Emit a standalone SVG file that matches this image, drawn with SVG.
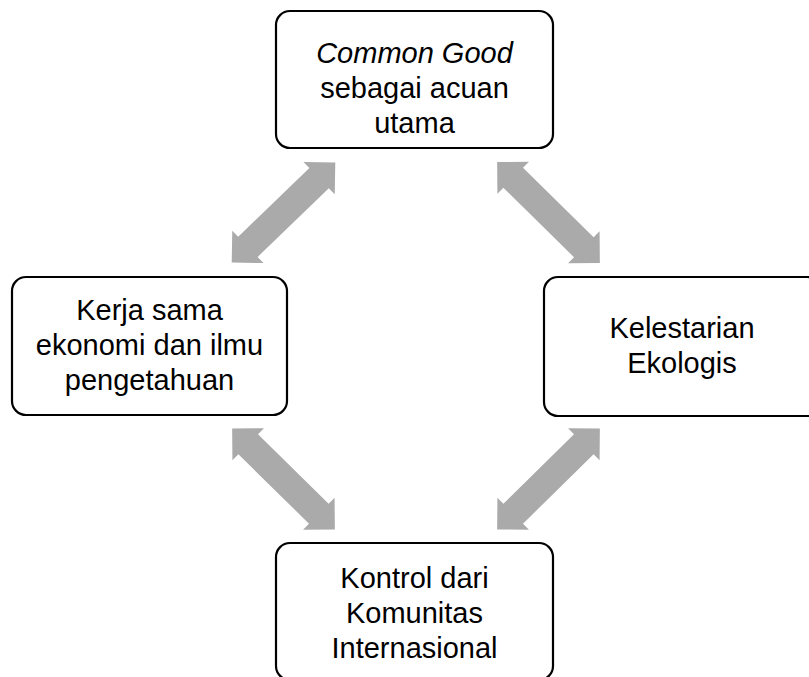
<svg xmlns="http://www.w3.org/2000/svg" width="809" height="677" viewBox="0 0 809 677">
<defs>
<style>
.box{fill:#ffffff;stroke:#000000;stroke-width:2.2}
.t{font-family:"Liberation Sans",Arial,sans-serif;font-size:29px;fill:#000000;text-anchor:middle}
.arr{fill:#aaaaaa}
</style>
<polygon id="dbl" points="-72,0 -49.5,-22.5 -49.5,-14 49.5,-14 49.5,-22.5 72,0 49.5,22.5 49.5,14 -49.5,14 -49.5,22.5"/>
</defs>
<rect width="809" height="677" fill="#ffffff"/>
<g id="connectors" class="arr">
<use href="#dbl" transform="translate(283.5,212.5) rotate(-44)"/>
<use href="#dbl" transform="translate(548.5,212.5) rotate(44.5)"/>
<use href="#dbl" transform="translate(283.5,479) rotate(44.5)"/>
<use href="#dbl" transform="translate(548.5,479) rotate(-44.5)"/>
</g>
<g id="n-top">
<rect class="box" x="276" y="11" width="277" height="137" rx="14"/>
<text class="t" x="414.5" y="63"><tspan font-style="italic">Common Good</tspan></text>
<text class="t" x="414.5" y="98">sebagai acuan</text>
<text class="t" x="414.5" y="133">utama</text>
</g>
<g id="n-left">
<rect class="box" x="12" y="277" width="275" height="138" rx="14"/>
<text class="t" x="149.5" y="320">Kerja sama</text>
<text class="t" x="149.5" y="355">ekonomi dan ilmu</text>
<text class="t" x="149.5" y="390">pengetahuan</text>
</g>
<g id="n-right">
<rect class="box" x="544" y="277" width="277" height="139" rx="14"/>
<text class="t" x="682" y="338">Kelestarian</text>
<text class="t" x="682" y="373">Ekologis</text>
</g>
<g id="n-bottom">
<rect class="box" x="276" y="543" width="277" height="137" rx="14"/>
<text class="t" x="414.5" y="588">Kontrol dari</text>
<text class="t" x="414.5" y="623">Komunitas</text>
<text class="t" x="414.5" y="658">Internasional</text>
</g>
</svg>
